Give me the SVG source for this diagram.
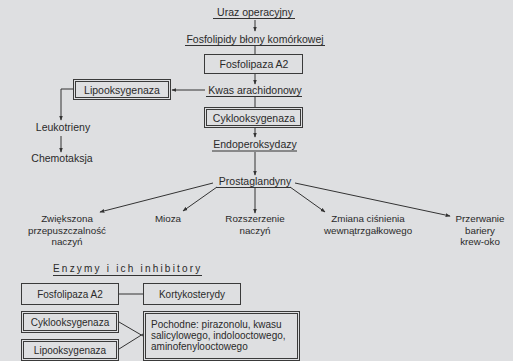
<svg xmlns="http://www.w3.org/2000/svg" width="513" height="361" viewBox="0 0 513 361">
<style>
text{font-family:"Liberation Sans",Arial,sans-serif;font-size:10.5px;fill:#2a2a2a;text-anchor:middle}
.s{font-size:10px}
.m{font-size:9.8px}
.l{text-anchor:start}
.sp{letter-spacing:2.2px;text-anchor:start;font-size:10px}
.box{fill:none;stroke:#3a3a3a;stroke-width:1}
.c{fill:none;stroke:#333;stroke-width:1}
.u{stroke:#333;stroke-width:1}
</style>
<defs>
<marker id="a" viewBox="0 0 8 8" refX="7" refY="4" markerWidth="5" markerHeight="5" orient="auto" markerUnits="userSpaceOnUse">
<path d="M0,1 L8,4 L0,7 z" fill="#333"/>
</marker>
</defs>
<rect width="513" height="361" fill="#dedfe1"/>

<g id="connectors">
<line class="c" x1="255" y1="20" x2="255" y2="31" marker-end="url(#a)"/>
<line class="c" x1="255" y1="46" x2="255" y2="54"/>
<line class="c" x1="255" y1="74" x2="255" y2="84" marker-end="url(#a)"/>
<line class="c" x1="205" y1="90" x2="172" y2="90" marker-end="url(#a)"/>
<polyline class="c" points="73,89 61,89 61,120" marker-end="url(#a)"/>
<line class="c" x1="61" y1="136" x2="61" y2="152" marker-end="url(#a)"/>
<line class="c" x1="255" y1="97" x2="255" y2="107"/>
<line class="c" x1="255" y1="127" x2="255" y2="137" marker-end="url(#a)"/>
<line class="c" x1="255" y1="152" x2="255" y2="175" marker-end="url(#a)"/>
<line class="c" x1="213" y1="183" x2="100" y2="212" marker-end="url(#a)"/>
<line class="c" x1="217" y1="187" x2="183" y2="211" marker-end="url(#a)"/>
<line class="c" x1="255" y1="188" x2="255" y2="213" marker-end="url(#a)"/>
<line class="c" x1="290" y1="187" x2="325" y2="212" marker-end="url(#a)"/>
<line class="c" x1="295" y1="183" x2="450" y2="216" marker-end="url(#a)"/>
<line class="c" x1="118" y1="294" x2="143" y2="294"/>
<line class="c" x1="119" y1="322" x2="143" y2="336"/>
<line class="c" x1="119" y1="349" x2="143" y2="334"/>
</g>

<g id="uraz">
<text x="255" y="16">Uraz operacyjny</text>
<line class="u" x1="213" y1="18.5" x2="295" y2="18.5"/>
</g>
<g id="fosfolipidy">
<text x="255" y="43">Fosfolipidy błony komórkowej</text>
<line class="u" x1="185" y1="45.5" x2="325" y2="45.5"/>
</g>
<g id="fosfolipaza">
<rect class="box" x="204.5" y="54.5" width="98" height="19"/>
<text x="254" y="68">Fosfolipaza A2</text>
</g>
<g id="kwas">
<text x="255" y="94">Kwas arachidonowy</text>
<line class="u" x1="206" y1="96.5" x2="302" y2="96.5"/>
</g>
<g id="lipooksygenaza">
<rect class="box" x="73.5" y="79.5" width="97" height="20"/>
<rect class="box" x="75.5" y="81.5" width="93" height="16"/>
<text x="122" y="93.5">Lipooksygenaza</text>
</g>
<g id="leukotrieny">
<text x="63" y="131">Leukotrieny</text>
</g>
<g id="chemotaksja">
<text x="62" y="162">Chemotaksja</text>
</g>
<g id="cyklooksygenaza">
<rect class="box" x="204.5" y="107.5" width="98" height="20"/>
<rect class="box" x="206.5" y="109.5" width="94" height="16"/>
<text x="254" y="121.5">Cyklooksygenaza</text>
</g>
<g id="endoperoksydazy">
<text x="255" y="148">Endoperoksydazy</text>
<line class="u" x1="212" y1="151" x2="297" y2="151"/>
</g>
<g id="prostaglandyny">
<text x="255" y="185">Prostaglandyny</text>
<line class="u" x1="216" y1="187.5" x2="291" y2="187.5"/>
</g>
<g id="zwiekszona">
<text class="m" x="67" y="222">Zwiększona</text>
<text class="m" x="67" y="233.5">przepuszczalność</text>
<text class="m" x="67" y="245">naczyń</text>
</g>
<g id="mioza"><text class="m" x="168" y="222">Mioza</text></g>
<g id="rozszerzenie">
<text class="m" x="255" y="222">Rozszerzenie</text>
<text class="m" x="255" y="233.5">naczyń</text>
</g>
<g id="zmiana">
<text class="m" x="368" y="222">Zmiana ciśnienia</text>
<text class="m" x="368" y="233.5">wewnątrzgałkowego</text>
</g>
<g id="przerwanie">
<text class="m" x="480" y="222">Przerwanie</text>
<text class="m" x="480" y="233.5">bariery</text>
<text class="m" x="480" y="245">krew-oko</text>
</g>

<g id="enzymy-title">
<text class="sp" x="53" y="272">Enzymy i ich inhibitory</text>
<line class="u" x1="53" y1="275.5" x2="202" y2="275.5"/>
</g>
<g id="e-fosfolipaza">
<rect class="box" x="21.5" y="283.5" width="97" height="21"/>
<text class="s" x="70" y="297.5">Fosfolipaza A2</text>
</g>
<g id="e-kortykosterydy">
<rect class="box" x="143.5" y="283.5" width="97" height="21"/>
<text class="s" x="192" y="297.5">Kortykosterydy</text>
</g>
<g id="e-cyklooksygenaza">
<rect class="box" x="21.5" y="311.5" width="97" height="21"/>
<rect class="box" x="23.5" y="313.5" width="93" height="17"/>
<text class="s" x="70" y="325.5">Cyklooksygenaza</text>
</g>
<g id="e-lipooksygenaza">
<rect class="box" x="21.5" y="339.5" width="97" height="21"/>
<rect class="box" x="23.5" y="341.5" width="93" height="17"/>
<text class="s" x="70" y="353.5">Lipooksygenaza</text>
</g>
<g id="e-pochodne">
<rect class="box" x="143.5" y="311.5" width="156" height="49"/>
<rect class="box" x="145.5" y="313.5" width="152" height="45"/>
<text class="s l" x="151" y="328">Pochodne: pirazonolu, kwasu</text>
<text class="s l" x="151" y="339">salicylowego, indolooctowego,</text>
<text class="s l" x="151" y="350">aminofenylooctowego</text>
</g>
</svg>
